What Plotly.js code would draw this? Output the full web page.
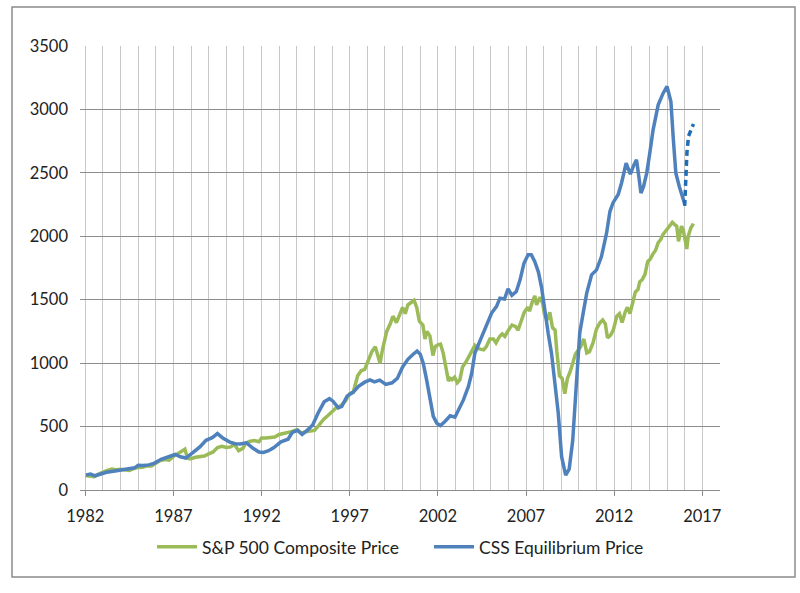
<!DOCTYPE html>
<html>
<head>
<meta charset="utf-8">
<script src="https://cdn.plot.ly/plotly-3.0.1.min.js"></script>
<style>
  html, body { margin: 0; padding: 0; background: #ffffff; }
  #chart { width: 800px; height: 593px; }
</style>
</head>
<body>
<div id="chart"></div>
<script>
// ---- Data ----
const spYears = [1982.0,1982.25,1982.5,1982.75,1983.0,1983.25,1983.5,1983.75,1984.0,1984.25,1984.5,1984.75,
  1985.0,1985.25,1985.5,1985.75,1986.0,1986.25,1986.5,1986.75,1987.0,1987.25,1987.5,1987.65,1987.8,1987.95,
  1988.25,1988.5,1988.75,1989.0,1989.25,1989.5,1989.75,1990.0,1990.25,1990.45,1990.7,1990.95,1991.1,1991.35,
  1991.6,1991.85,1992.0,1992.25,1992.5,1992.75,1993.0,1993.25,1993.5,1993.75,1994.0,1994.25,1994.5,1994.75,
  1995.0,1995.25,1995.5,1995.75,1996.0,1996.25,1996.5,1996.75,1997.0,1997.2,1997.45,1997.65,1997.85,1998.05,
  1998.25,1998.45,1998.6,1998.72,1998.85,1999.1,1999.3,1999.45,1999.65,1999.85,2000.0,2000.15,2000.3,2000.5,
  2000.65,2000.8,2000.95,2001.15,2001.27,2001.38,2001.55,2001.72,2001.85,2002.0,2002.15,2002.3,2002.5,2002.6,
  2002.7,2002.8,2002.95,2003.1,2003.25,2003.4,2003.6,2003.9,2004.1,2004.25,2004.4,2004.6,2004.75,2004.95,
  2005.15,2005.3,2005.5,2005.65,2005.8,2006.0,2006.2,2006.4,2006.55,2006.7,2006.9,2007.1,2007.2,2007.35,
  2007.5,2007.6,2007.8,2007.95,2008.05,2008.2,2008.35,2008.5,2008.65,2008.75,2008.9,2009.05,2009.2,2009.35,
  2009.5,2009.65,2009.8,2009.95,2010.1,2010.28,2010.45,2010.6,2010.8,2011.0,2011.2,2011.35,2011.5,2011.62,
  2011.8,2011.95,2012.15,2012.3,2012.45,2012.62,2012.75,2012.9,2013.05,2013.2,2013.35,2013.45,2013.6,2013.75,
  2013.9,2014.05,2014.2,2014.35,2014.5,2014.65,2014.75,2014.9,2015.05,2015.15,2015.3,2015.45,2015.55,2015.65,
  2015.72,2015.82,2015.92,2016.05,2016.12,2016.2,2016.35,2016.5];
const spPrice = [115,112,105,125,142,155,165,160,163,158,155,168,
  178,180,190,190,210,232,240,235,265,290,310,322,250,245,
  258,265,268,285,300,335,345,335,340,360,310,330,370,385,
  390,380,410,410,415,418,438,445,450,462,475,450,458,462,
  470,510,555,585,620,650,665,700,760,770,900,940,950,1030,
  1090,1130,1060,1000,1100,1250,1310,1370,1320,1400,1440,1390,1460,1480,
  1495,1440,1330,1300,1190,1250,1215,1060,1130,1145,1150,1080,920,860,
  880,870,890,845,870,970,1010,1080,1140,1120,1110,1105,1130,1190,
  1190,1160,1210,1230,1210,1260,1300,1290,1260,1320,1400,1440,1410,1480,
  1530,1460,1520,1470,1380,1340,1400,1280,1260,1090,900,880,760,880,
  930,1000,1070,1100,1130,1190,1080,1090,1160,1270,1320,1340,1310,1200,
  1220,1260,1370,1390,1320,1400,1440,1390,1480,1560,1580,1640,1660,1700,
  1800,1820,1860,1890,1950,1975,2010,2040,2060,2090,2110,2090,2080,1960,
  2000,2080,2050,1940,1900,2000,2065,2100];

const cssYears = [1982.05,1982.3,1982.55,1982.85,1983.2,1983.6,1984.0,1984.5,1984.8,1985.0,1985.3,1985.6,
  1985.9,1986.3,1986.7,1987.1,1987.4,1987.7,1988.1,1988.5,1988.85,1989.2,1989.5,1989.8,1990.2,1990.5,1990.8,
  1991.15,1991.5,1991.85,1992.1,1992.4,1992.7,1993.1,1993.5,1993.75,1994.05,1994.3,1994.6,1994.9,1995.2,
  1995.55,1995.85,1996.05,1996.35,1996.55,1996.85,1997.2,1997.5,1997.85,1998.15,1998.4,1998.7,1999.05,1999.4,
  1999.7,2000.0,2000.3,2000.6,2000.82,2001.0,2001.17,2001.36,2001.55,2001.74,2001.95,2002.15,2002.4,2002.7,
  2002.97,2003.15,2003.45,2003.73,2003.92,2004.1,2004.3,2004.58,2004.78,2005.05,2005.33,2005.52,2005.78,
  2005.98,2006.2,2006.45,2006.66,2006.88,2007.12,2007.3,2007.5,2007.7,2007.88,2008.07,2008.26,2008.45,
  2008.64,2008.83,2009.02,2009.25,2009.45,2009.65,2009.85,2010.05,2010.25,2010.45,2010.72,2011.0,2011.28,
  2011.57,2011.76,2011.94,2012.23,2012.42,2012.68,2012.92,2013.12,2013.27,2013.4,2013.52,2013.67,2013.85,
  2014.02,2014.21,2014.5,2014.78,2015.0,2015.22,2015.36,2015.5,2015.7,2015.88,2016.0];
const cssPrice = [118,125,112,128,140,148,158,168,175,195,193,198,
  210,242,258,280,262,252,295,340,392,412,445,410,378,365,362,
  372,330,300,296,310,335,380,400,455,470,438,472,512,605,
  695,720,700,648,660,740,772,818,850,868,852,866,832,845,
  880,970,1030,1070,1095,1070,1000,870,710,580,525,508,540,585,
  574,630,710,815,920,1080,1145,1240,1315,1395,1448,1512,1505,
  1585,1535,1565,1655,1785,1855,1855,1800,1720,1600,1390,1233,1075,
  865,606,263,118,165,390,820,1240,1400,1555,1696,1735,1840,
  2024,2195,2265,2330,2420,2576,2490,2563,2603,2471,2340,2393,2500,
  2655,2839,3036,3128,3181,3063,2760,2498,2390,2300,2255];

const projYears = [2016.0,2016.06,2016.13,2016.22,2016.35,2016.5];
const projPrice = [2240,2450,2660,2790,2840,2885];

const seriesNames = ["S&P 500 Composite Price", "CSS Equilibrium Price"];
const xTickVals = [1982,1987,1992,1997,2002,2007,2012,2017];
const yTickVals = [0,500,1000,1500,2000,2500,3000,3500];

// ---- Chart ----
const FONT = "Lato, 'Open Sans', 'Liberation Sans', sans-serif";
const traces = [
  {x: spYears, y: spPrice, name: seriesNames[0], type: "scatter", mode: "lines",
   line: {color: "#9BBB59", width: 3.5}},
  {x: cssYears, y: cssPrice, name: seriesNames[1], type: "scatter", mode: "lines",
   line: {color: "#4F81BD", width: 3.5}},
  {x: projYears, y: projPrice, name: "projection", type: "scatter", mode: "lines",
   showlegend: false, line: {color: "#1F6DB5", width: 3.5, dash: "6px,4px"}}
];

const layout = {
  width: 800, height: 593,
  margin: {l: 80, r: 80, t: 46, b: 103},
  paper_bgcolor: "#ffffff", plot_bgcolor: "#ffffff",
  font: {family: FONT, size: 16, color: "#222222"},
  showlegend: true,
  legend: {orientation: "h", x: 0.1125, xanchor: "left", y: -0.128, yanchor: "middle",
           itemwidth: 40, entrywidth: 222, traceorder: "normal",
           font: {family: FONT, size: 17.5, color: "#222222"}, bgcolor: "rgba(0,0,0,0)"},
  xaxis: {
    range: [1981.7, 2018.005], tickmode: "array", tickvals: xTickVals,
    ticktext: xTickVals.map(String),
    showgrid: true, gridcolor: "#c8c8c8", gridwidth: 1,
    minor: {dtick: 1, tick0: 1982, showgrid: true, gridcolor: "#c8c8c8", gridwidth: 1},
    ticks: "outside", ticklen: 5, tickcolor: "#8c8c8c", tickwidth: 1,
    showline: false, zeroline: false, ticklabelstandoff: 6,
    tickfont: {family: FONT, size: 16.5, color: "#222222"}, fixedrange: true
  },
  yaxis: {
    range: [0, 3500], tickmode: "array", tickvals: yTickVals,
    ticktext: yTickVals.map(String),
    showgrid: true, gridcolor: "#8c8c8c", gridwidth: 1,
    zeroline: true, zerolinecolor: "#8c8c8c", zerolinewidth: 1,
    showline: false, ticks: "", ticklabelstandoff: 11,
    tickfont: {family: FONT, size: 16.5, color: "#222222"}, fixedrange: true
  },
  shapes: [
    {type: "rect", xref: "paper", yref: "paper",
     x0: -0.10625, x1: 1.1172, y0: -0.1959, y1: 1.0878,
     line: {color: "#8c8c8c", width: 1.5}, fillcolor: "rgba(0,0,0,0)", layer: "below"}
  ]
};

Plotly.newPlot("chart", traces, layout, {displayModeBar: false, staticPlot: true});
</script>
</body>
</html>
